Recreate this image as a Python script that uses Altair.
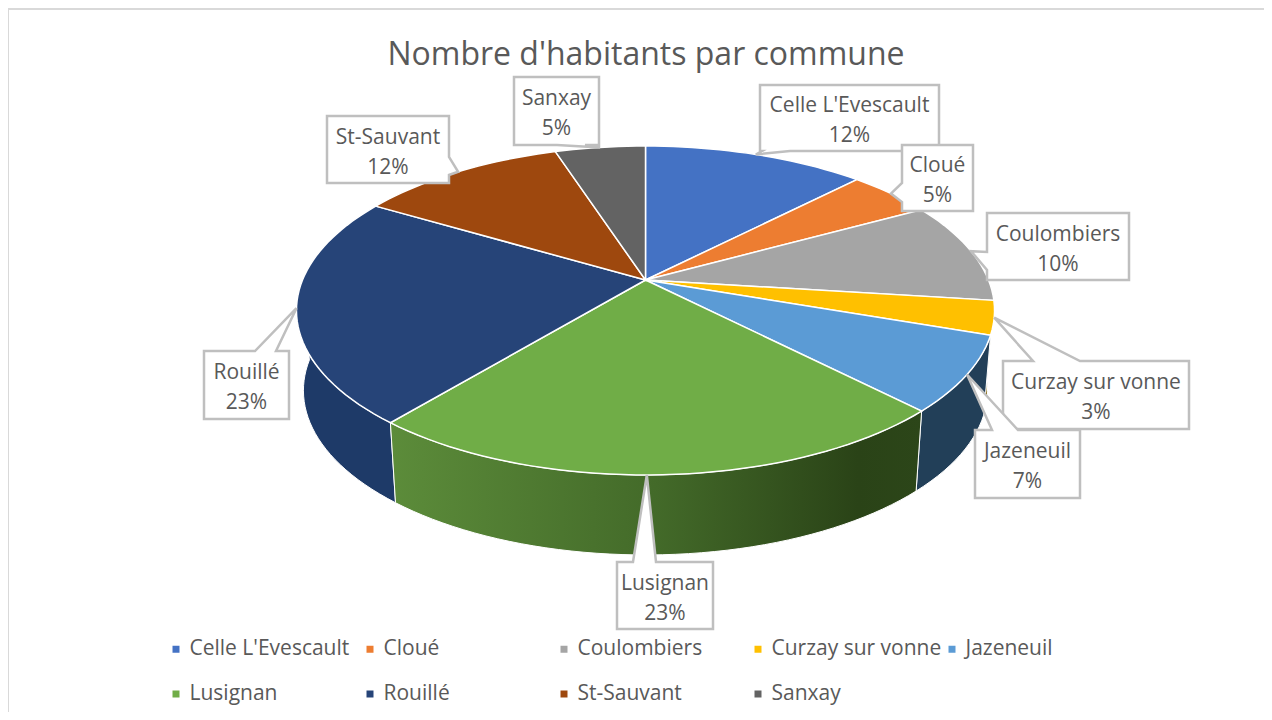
import math
import altair as alt
import pandas as pd

communes = ["Celle L'Evescault", "Cloué", "Coulombiers", "Curzay sur vonne", "Jazeneuil",
            "Lusignan", "Rouillé", "St-Sauvant", "Sanxay"]
shares = [12.3, 4.7, 10, 3.3, 7.4, 23.3, 22.5, 11.5, 5]
percent_labels = ["12%", "5%", "10%", "3%", "7%", "23%", "23%", "12%", "5%"]
colors = ["#4472C4", "#ED7D31", "#A5A5A5", "#FFC000", "#5B9BD5", "#70AD47", "#264478", "#9E480E", "#636363"]
wall_colors = ["#2f5090", "#ad5a23", "#7c7c7c", "#7f6000", "#223f58", "#70AD47", "#1e3a68", "#6f330a", "#4a4a4a"]
chart_title = "Nombre d'habitants par commune"

TEXT = "#595959"
GREY = "#bfbfbf"
FONT = "Open Sans"

# perspective view of the pie disc (page pixels)
CX, CY = 645.5, 280.0
A, B, C = 343.0, 158.8, 0.1854
DEPTH, SHRINK = 80.0, 0.98


def rim(pct, bottom=False):
    th = math.radians(pct * 3.6)
    u, v = math.sin(th), math.cos(th)
    w = 1 + C * v
    x, y = A * u / w, B * v / w
    if bottom:
        return [CX + x * SHRINK, CY - y + DEPTH]
    return [CX + x, CY - y]


def arc(a, b, bottom=False):
    n = max(2, int((b - a) * 2))
    return [rim(a + (b - a) * i / n, bottom) for i in range(n + 1)]


def feature(name, ring):
    return {"type": "Feature", "properties": {"name": name},
            "geometry": {"type": "Polygon", "coordinates": [ring + [ring[0]]]}}


projection = dict(type="identity", scale=1, translate=[-8, -8])

edges = [0]
for s in shares:
    edges.append(edges[-1] + s)

# side walls (front half only), back to front
wall_layers = []
order = sorted(range(len(communes)), key=lambda i: -abs(50 - (edges[i] + edges[i + 1]) / 2))
for i in order:
    a, b = max(edges[i], 25), min(edges[i + 1], 75)
    if b <= a:
        continue
    ring = arc(a, b) + arc(a, b, True)[::-1]
    fill = wall_colors[i]
    if communes[i] == "Lusignan":
        fill = alt.Gradient(gradient="linear", x1=1, x2=0, y1=0, y2=0, stops=[
            alt.GradientStop(color="#2c4619", offset=0),
            alt.GradientStop(color="#2a4317", offset=0.12),
            alt.GradientStop(color="#436a29", offset=0.5),
            alt.GradientStop(color="#5c8c3a", offset=1)])
    wall_layers.append(
        alt.Chart(alt.Data(values=[feature(communes[i], ring)]))
        .mark_geoshape(fill=fill, stroke="white", strokeWidth=1)
        .project(**projection)
    )

# top face
tops = [feature(n, [[CX, CY]] + arc(edges[i], edges[i + 1])) for i, n in enumerate(communes)]
top_layer = (
    alt.Chart(alt.Data(values=tops))
    .mark_geoshape(stroke="white", strokeWidth=1.5)
    .encode(color=alt.Color("properties.name:N",
                            scale=alt.Scale(domain=communes, range=colors),
                            legend=alt.Legend(
                                title=None, orient="none", legendX=157.5, legendY=630.5,
                                direction="horizontal",
                                columns=5, gridAlign="all", columnPadding=0, rowPadding=23,
                                symbolType="square", symbolSize=49, symbolStrokeWidth=0,
                                labelFont=FONT, labelFontSize=21, labelColor=TEXT,
                                labelOffset=3, labelLimit=300, padding=0)))
    .project(**projection)
)

# data-label callouts: box (left, right, top, bottom) and the side its pointer leaves from
boxes = {
    "Celle L'Evescault": (760, 939, 85, 151, "bottom", 762, 790),
    "Cloué": (902, 973, 145, 211, "left", 183, 202),
    "Coulombiers": (987, 1129, 213, 280, "left", 252, 270),
    "Curzay sur vonne": (1003, 1189, 361, 429, "top", 1033, 1080),
    "Jazeneuil": (975, 1080, 430, 498, "top", 992, 1018),
    "Lusignan": (617, 713, 562, 629, "top", 633, 656),
    "Rouillé": (204, 289, 351, 419, "top", 255, 276),
    "St-Sauvant": (327, 449, 116, 183, "right", 157, 175),
    "Sanxay": (514, 599, 77, 145, "bottom", 557, 585),
}
tip_pct = {"Lusignan": 49.95}


def callout(name, i):
    l, r, t, b, side, p, q = boxes[name]
    tip = rim(tip_pct.get(name, (edges[i] + edges[i + 1]) / 2))
    ring = [[l, t]]
    if side == "top":
        ring += [[p, t], tip, [q, t]]
    ring.append([r, t])
    if side == "right":
        ring += [[r, p], tip, [r, q]]
    ring.append([r, b])
    if side == "bottom":
        ring += [[q, b], tip, [p, b]]
    ring.append([l, b])
    if side == "left":
        ring += [[l, q], tip, [l, p]]
    return feature(name, ring)


callout_layers = [
    alt.Chart(alt.Data(values=[callout(n, i)]))
    .mark_geoshape(fill="white", stroke=GREY, strokeWidth=2.5)
    .project(**projection)
    for i, n in enumerate(communes)
]

label_df = pd.DataFrame({
    "label": [f"{n}\n{p}" for n, p in zip(communes, percent_labels)],
    "px": [(boxes[n][0] + boxes[n][1]) / 2 - 8 for n in communes],
    "py": [(boxes[n][2] + boxes[n][3]) / 2 - 8 for n in communes],
})
label_layer = (
    alt.Chart(label_df)
    .mark_text(font=FONT, fontSize=21, color=TEXT, lineBreak="\n", lineHeight=30, baseline="middle", dy=-12)
    .encode(x=alt.X("px:Q", scale=None), y=alt.Y("py:Q", scale=None), text="label:N")
)

frame_top = alt.Chart(pd.DataFrame({"a": [0]})).mark_rule(color="#d9d9d9", strokeWidth=2).encode(
    x=alt.value(0), x2=alt.value(1256), y=alt.value(1))
frame_left = alt.Chart(pd.DataFrame({"a": [0]})).mark_rule(color="#d9d9d9", strokeWidth=2).encode(
    x=alt.value(0), y=alt.value(0), y2=alt.value(704))

chart = alt.layer(
    frame_top, frame_left, *wall_layers, top_layer, *callout_layers, label_layer
).properties(
    width=1256, height=704, padding=0, autosize=alt.AutoSizeParams(type="none"),
    background="white",
    title=alt.TitleParams(chart_title, font=FONT, fontSize=32, fontWeight="normal", color=TEXT,
                          anchor="middle", dx=10, dy=69),
).configure_view(stroke=None)

chart.save("out.html", embed_options={"renderer": "svg", "actions": False})
